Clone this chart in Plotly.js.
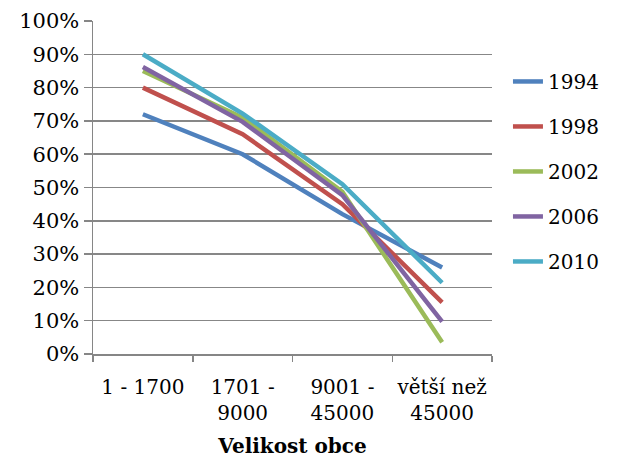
<!DOCTYPE html>
<html>
<head>
<meta charset="utf-8">
<script src="https://cdn.plot.ly/plotly-3.0.1.min.js"></script>
<style>html,body{margin:0;padding:0;background:#fff;}#chart{width:623px;height:463px;}</style>
</head>
<body>
<div id="chart"></div>
<script>
const categories = ["1 - 1700", "1701 -<br>9000", "9001 -<br>45000", "větší než<br>45000"];
const seriesNames = ["1994", "1998", "2002", "2006", "2010"];
const v1994 = [0.72, 0.60, 0.42, 0.26];
const v1998 = [0.80, 0.66, 0.45, 0.155];
const v2002 = [0.85, 0.71, 0.487, 0.035];
const v2006 = [0.862, 0.697, 0.477, 0.097];
const v2010 = [0.90, 0.722, 0.51, 0.214];
const colors = ["#4F81BD", "#C0504D", "#9BBB59", "#8064A2", "#4BACC6"];
const seriesValues = [v1994, v1998, v2002, v2006, v2010];

const font = "DejaVu Serif";
const fs = 21;
const traces = seriesValues.map((vals, i) => ({
  type: "scatter",
  mode: "lines",
  x: categories,
  y: vals,
  name: seriesNames[i],
  legendgroup: "g" + i,
  line: {color: colors[i], width: 4.5}
}));

const layout = {
  width: 623, height: 463,
  margin: {l: 93, r: 131, t: 21, b: 109},
  paper_bgcolor: "#fff", plot_bgcolor: "#fff",
  font: {family: font, size: fs, color: "#000"},
  showlegend: true,
  legend: {
    x: 1.04, xanchor: "left", y: 0.877, yanchor: "top",
    font: {family: font, size: 20, color: "#000"},
    tracegroupgap: 16,
    bgcolor: "rgba(0,0,0,0)"
  },
  xaxis: {
    type: "category",
    range: [-0.5, 3.5],
    tickson: "boundaries",
    tickangle: 0,
    ticklabelstandoff: 14,
    ticks: "outside", ticklen: 6, tickcolor: "#868686", tickwidth: 1.5,
    showline: true, linecolor: "#868686", linewidth: 1.5,
    showgrid: false, zeroline: false,
    tickfont: {family: font, size: 20, color: "#000"},
    title: {text: "<b>Velikost obce</b>", font: {family: font, size: 20, color: "#000"}, standoff: 15},
    fixedrange: true
  },
  yaxis: {
    range: [0, 1],
    dtick: 0.1, tick0: 0,
    tickformat: ".0%",
    ticks: "outside", ticklen: 8, tickcolor: "#868686", tickwidth: 1.5,
    showline: true, linecolor: "#868686", linewidth: 1.5,
    showgrid: true, gridcolor: "#878787", gridwidth: 1.5,
    zeroline: false,
    tickfont: {family: font, size: fs, color: "#000"},
    fixedrange: true
  }
};

Plotly.newPlot("chart", traces, layout, {displayModeBar: false, staticPlot: true});
</script>
</body>
</html>
